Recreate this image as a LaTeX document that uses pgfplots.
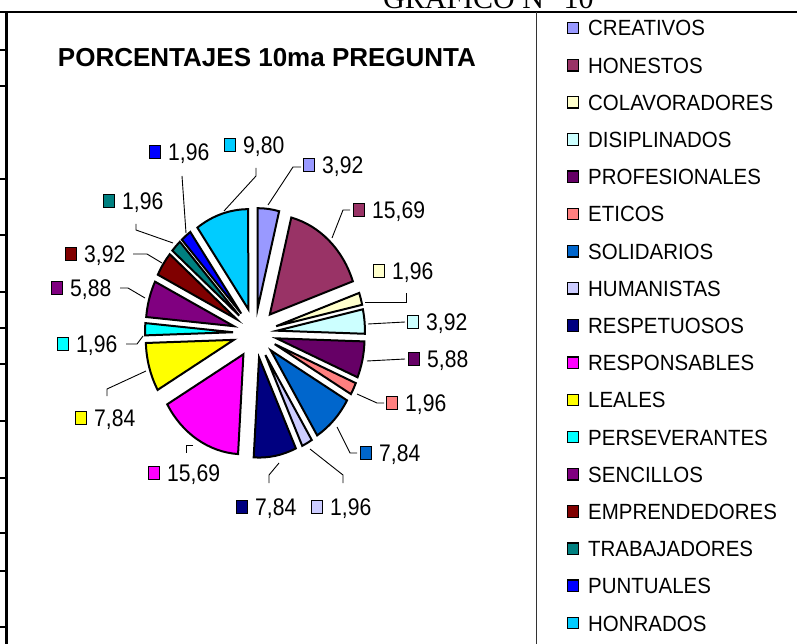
\documentclass[border=0pt]{standalone}
\usepackage{graphicx}
\usepackage{pgfplots}
\pgfplotsset{compat=1.18}
\usepackage{pgfplotstable}
\usetikzlibrary{calc}
\usepackage{fontspec}
\setmainfont{Liberation Sans}
\newfontfamily\serifont{Liberation Serif}

\definecolor{c1}{HTML}{9999FF}
\definecolor{c2}{HTML}{993366}
\definecolor{c3}{HTML}{FFFFCC}
\definecolor{c4}{HTML}{CCFFFF}
\definecolor{c5}{HTML}{660066}
\definecolor{c6}{HTML}{FF8080}
\definecolor{c7}{HTML}{0066CC}
\definecolor{c8}{HTML}{CCCCFF}
\definecolor{c9}{HTML}{000080}
\definecolor{c10}{HTML}{FF00FF}
\definecolor{c11}{HTML}{FFFF00}
\definecolor{c12}{HTML}{00FFFF}
\definecolor{c13}{HTML}{800080}
\definecolor{c14}{HTML}{800000}
\definecolor{c15}{HTML}{008080}
\definecolor{c16}{HTML}{0000FF}
\definecolor{c17}{HTML}{00CCFF}

% value = percentage; lx,ly = position of the data label (pixels)
\pgfplotstableread[col sep=comma]{
name,value,color,lx,ly
CREATIVOS,3.92,c1,309,165
HONESTOS,15.69,c2,359,210
COLAVORADORES,1.96,c3,379,271
DISIPLINADOS,3.92,c4,413,322
PROFESIONALES,5.88,c5,414,359
ETICOS,1.96,c6,392,403
SOLIDARIOS,7.84,c7,366,453
HUMANISTAS,1.96,c8,317,507
RESPETUOSOS,7.84,c9,242,507
RESPONSABLES,15.69,c10,154,473
LEALES,7.84,c11,81,418
PERSEVERANTES,1.96,c12,63,344
SENCILLOS,5.88,c13,57,288
EMPRENDEDORES,3.92,c14,71,254
TRABAJADORES,1.96,c15,109,201
PUNTUALES,1.96,c16,155,152
HONRADOS,9.80,c17,230,145
}\piedata

\pgfmathsetmacro\cum{0}%
\pgfplotsforeachungrouped \i in {0,...,16}{%
  \pgfplotstablegetelem{\i}{value}\of\piedata%
  \pgfmathsetmacro\aS{90-3.6*\cum}%
  \pgfmathsetmacro\cum{\cum+\pgfplotsretval}%
  \pgfmathsetmacro\aE{90-3.6*\cum}%
  \expandafter\xdef\csname sA\i\endcsname{\aS}%
  \expandafter\xdef\csname sE\i\endcsname{\aE}%
}%

\newcommand\vlabel[1]{\fontsize{24}{26}\selectfont\scalebox{0.88}[1]{\pgfmathprintnumber[fixed,precision=2,fixed zerofill,use comma,assume math mode=true]{#1}}}
\newcommand\legtext[1]{\fontsize{22}{24}\selectfont\scalebox{0.93}[1]{#1}}

\begin{document}
\begin{tikzpicture}
\begin{axis}[at={(0,0)},anchor=south west,
  width=797pt,height=644pt,scale only axis,
  xmin=0,xmax=797,ymin=0,ymax=644,y dir=reverse,
  axis lines=none,clip=false]

% slices
\pgfplotsinvokeforeach{0,...,16}{
  \pgfplotstablegetelem{#1}{color}\of\piedata \let\col\pgfplotsretval
  \pgfmathsetmacro\mA{\csname sA#1\endcsname}
  \pgfmathsetmacro\mE{\csname sE#1\endcsname}
  \pgfmathsetmacro\mM{(\mA+\mE)/2}
  \pgfmathsetmacro\ox{22*cos(\mM)}
  \pgfmathsetmacro\oy{25*sin(\mM)}
  \pgfmathsetmacro\px{88*cos(\mA)}
  \pgfmathsetmacro\py{100*sin(\mA)}
  \edef\cmd{\noexpand\filldraw[fill=\col,draw=black,line width=2pt]
    ($(axis cs:255,333)+(\ox pt,\oy pt)$) -- ++(\px pt,\py pt)
    arc[start angle=\mA,end angle=\mE,x radius=88pt,y radius=100pt] -- cycle;}
  \cmd
}

% leader lines
\draw[line width=0.9pt] (268,205) -- (293,167) -- (301,167);
\draw[line width=0.9pt] (332,238) -- (343,210) -- (350,210);
\draw[line width=0.9pt] (365,302) -- (406,302) -- (406,293);
\draw[line width=0.9pt] (368,324) -- (405,322);
\draw[line width=0.9pt] (367,361) -- (405,359);
\draw[line width=0.9pt] (357,394) -- (377,403) -- (384,403);
\draw[line width=0.9pt] (337,427) -- (350,453) -- (357,453);
\draw[line width=0.9pt] (310,449) -- (343,475) -- (343,483);
\draw[line width=0.9pt] (279,463) -- (269,475) -- (269,483);
\draw[line width=0.9pt] (193,445) -- (186,445) -- (186,453);
\draw[line width=0.9pt] (146,371) -- (107,389) -- (107,396);
\draw[line width=0.9pt] (143,336) -- (137,344) -- (126,344);
\draw[line width=0.9pt] (145,298) -- (128,288) -- (120,288);
\draw[line width=0.9pt] (162,263) -- (147,254) -- (133,254);
\draw[line width=0.9pt] (173,243) -- (136,230) -- (136,224);
\draw[line width=0.9pt] (186,233) -- (182,176);
\draw[line width=0.9pt] (224,211) -- (256,176) -- (256,168);

% data labels and legend
\pgfplotsinvokeforeach{0,...,16}{
  \pgfplotstablegetelem{#1}{color}\of\piedata \let\col\pgfplotsretval
  \pgfplotstablegetelem{#1}{value}\of\piedata \let\val\pgfplotsretval
  \pgfplotstablegetelem{#1}{lx}\of\piedata \let\lx\pgfplotsretval
  \pgfplotstablegetelem{#1}{ly}\of\piedata \let\ly\pgfplotsretval
  \pgfplotstablegetelem{#1}{name}\of\piedata \let\nm\pgfplotsretval
  \pgfmathsetmacro\tx{\lx+13}
  \pgfmathsetmacro\ty{\ly+8.5}
  \pgfmathsetmacro\legy{28+37.19*#1}
  \pgfmathsetmacro\legty{\legy+8}
  \edef\cmd{%
    \noexpand\node[draw=black,line width=1.3pt,fill=\col,minimum width=11.5pt,minimum height=12.5pt,inner sep=0pt] at (axis cs:\lx,\ly) {};
    \noexpand\node[anchor=base west,inner sep=0pt] at (axis cs:\tx,\ty) {\noexpand\vlabel{\val}};
    \noexpand\node[draw=black,line width=1.3pt,fill=\col,minimum width=11.5pt,minimum height=11.5pt,inner sep=0pt] at (axis cs:573,\legy) {};
    \noexpand\node[anchor=base west,inner sep=0pt] at (axis cs:588,\legty) {\noexpand\legtext{\nm}};
  }\cmd
}

% title
\node[inner sep=0pt] at (267,58) {\bfseries\fontsize{26}{28}\selectfont PORCENTAJES 10ma PREGUNTA};

% frame
\draw[line width=2.2pt] (0,12) -- (797,12);
\draw[line width=2.6pt] (6.5,12) -- (6.5,644);
\draw[line width=1pt,black!80] (536,12) -- (536,644);
\pgfplotsinvokeforeach{50,86,179,235,292,328,364,421,478,533,571,627}{
  \draw[line width=1.5pt] (0,#1) -- (6,#1);
}
\node[anchor=base west,inner sep=0pt] at (383,9) {\serifont\fontsize{30}{32}\selectfont GRAFICO N° 10};
\end{axis}
\pgfresetboundingbox
\useasboundingbox (0,0) rectangle (797pt,644pt);
\end{tikzpicture}
\end{document}
